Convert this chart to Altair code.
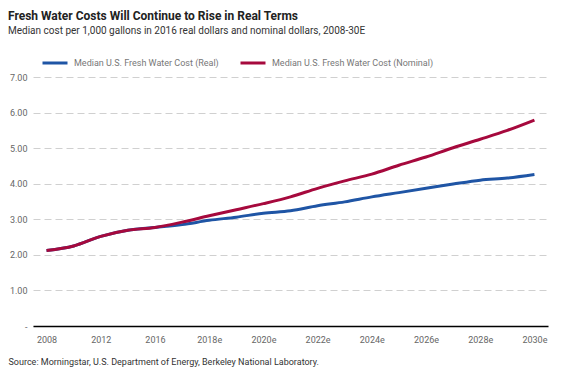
import altair as alt
import pandas as pd

years = ["2008", "2010", "2012", "2014", "2016", "2017e", "2018e", "2019e", "2020e",
         "2021e", "2022e", "2023e", "2024e", "2025e", "2026e", "2027e", "2028e",
         "2029e", "2030e"]
real = [2.12, 2.25, 2.52, 2.69, 2.77, 2.85, 2.97, 3.06, 3.17, 3.24, 3.38, 3.49,
        3.63, 3.75, 3.87, 3.99, 4.10, 4.16, 4.26]
nominal = [2.12, 2.25, 2.52, 2.69, 2.77, 2.92, 3.10, 3.27, 3.44, 3.63, 3.87, 4.08,
           4.27, 4.52, 4.75, 5.01, 5.25, 5.50, 5.79]
series = ["Median U.S. Fresh Water Cost (Real)", "Median U.S. Fresh Water Cost (Nominal)"]
colors = ["#1f55a5", "#a6093d"]
tick_labels = ["2008", "2012", "2016", "2018e", "2020e", "2022e", "2024e", "2026e",
               "2028e", "2030e"]

df = pd.concat([
    pd.DataFrame({"year": years, "value": real, "series": series[0], "ord": 0}),
    pd.DataFrame({"year": years, "value": nominal, "series": series[1], "ord": 1}),
])

FONT = "Roboto"

chart = alt.Chart(df).mark_line(strokeWidth=3, interpolate="monotone").encode(
    x=alt.X("year:O", sort=years,
            scale=alt.Scale(type="point", padding=0.5),
            axis=alt.Axis(values=tick_labels, labelAngle=0, ticks=False,
                          domainColor="#000000", domainWidth=1.5,
                          labelColor="#666666", labelFontSize=9, labelPadding=9,
                          labelFont=FONT, titleFont=FONT,
                          grid=False,
                          title="Source: Morningstar, U.S. Department of Energy, Berkeley National Laboratory.",
                          titleAnchor="start", titleX=-25, titleY=35,
                          titleFontWeight="normal", titleFontSize=9,
                          titleColor="#333333", titleBaseline="middle")),
    y=alt.Y("value:Q", scale=alt.Scale(domain=[0, 7], nice=False),
            axis=alt.Axis(values=[0, 1, 2, 3, 4, 5, 6, 7], domain=False, ticks=False,
                          labelExpr="datum.value == 0 ? '-' : format(datum.value, '.2f')",
                          labelColor="#666666", labelFontSize=9, labelPadding=6,
                          labelFont=FONT,
                          gridColor="#d0d0d0", gridDash=[7, 4], gridWidth=1,
                          title=None)),
    color=alt.Color("series:N", sort=series,
                    scale=alt.Scale(domain=series, range=colors),
                    legend=alt.Legend(orient="none", legendX=8, legendY=-28,
                                      direction="horizontal", title=None,
                                      symbolType="stroke", symbolSize=625,
                                      symbolStrokeWidth=3, labelFontSize=9,
                                      labelFont=FONT,
                                      labelColor="#777777", labelOffset=5,
                                      labelLimit=400, columnPadding=15)),
    order=alt.Order("ord:Q"),
).properties(
    width=515,
    height=249,
    autosize=alt.AutoSizeParams(type="none"),
    padding={"left": 25, "top": 69, "right": 5, "bottom": 41},
    title=alt.TitleParams(
        text="Fresh Water Costs Will Continue to Rise in Real Terms",
        subtitle="Median cost per 1,000 gallons in 2016 real dollars and nominal dollars, 2008-30E",
        anchor="start", frame="group", dx=-25, offset=12,
        font=FONT, subtitleFont=FONT,
        fontSize=12, fontWeight="bold", color="#222222",
        subtitleFontSize=10, subtitleColor="#333333", subtitlePadding=3,
    ),
).configure(font=FONT).configure_view(stroke=None)

chart.save("out.html", embed_options={"renderer": "svg", "actions": False})
